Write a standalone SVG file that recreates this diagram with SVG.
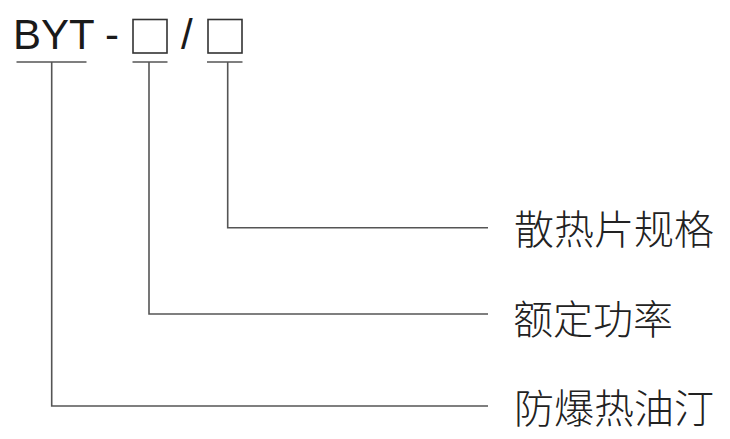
<svg xmlns="http://www.w3.org/2000/svg" width="730" height="439" viewBox="0 0 730 439">
<style>
.t{font-family:"Liberation Sans",Arial,sans-serif;font-size:42px;fill:#1a1a1a}
.c{font-family:"Noto Sans CJK SC","Noto Sans",sans-serif;font-size:40px;font-weight:300;fill:#222}
.ln{stroke:#555;stroke-width:1.6;fill:none}
.bx{stroke:#333;stroke-width:1.6;fill:none}
</style>
<rect width="730" height="439" fill="#fff"/>
<g id="code">
<text class="t" x="13" y="49">BYT</text>
<text class="t" x="105" y="49">-</text>
<rect class="bx" x="133" y="19.5" width="34" height="33.5"/>
<text class="t" x="181" y="49">/</text>
<rect class="bx" x="208" y="19.5" width="34" height="33.5"/>
</g>
<g id="label1"><text class="c" x="514" y="244">散热片规格</text></g>
<g id="label2"><text class="c" x="513" y="334">额定功率</text></g>
<g id="label3"><text class="c" x="514" y="423">防爆热油汀</text></g>
<g id="connectors">
<path class="ln" d="M16.5 62H86.5M51.7 62V406H488"/>
<path class="ln" d="M132.5 62H167.5M149 62V314H488"/>
<path class="ln" d="M207 62H242.5M227.7 62V227.7H488"/>
</g>
</svg>
